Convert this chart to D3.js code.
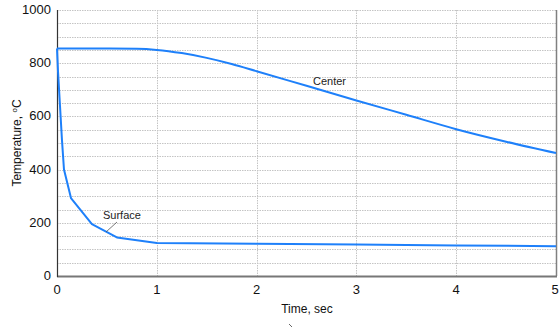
<!DOCTYPE html>
<html>
<head>
<meta charset="utf-8">
<script src="https://cdn.jsdelivr.net/npm/d3@7"></script>
<style>
body { margin: 0; background: #fff; }
text { font-family: "Liberation Sans", Arial, sans-serif; }
</style>
</head>
<body>
<script>
// data (time in sec, temperature in C)
var centerT = [0, 0.4, 0.8, 1.0, 1.25, 1.5, 1.75, 2.0, 2.5, 3.0, 3.5, 4.0, 4.5, 5.0];
var centerV = [855, 855, 854, 850, 838, 820, 797, 770, 715, 660, 606, 552, 505, 462];
var surfaceT = [0, 0.01, 0.03, 0.05, 0.07, 0.14, 0.35, 0.6, 1.0, 2.0, 3.0, 4.0, 5.0];
var surfaceV = [855, 770, 640, 510, 400, 293, 195, 145, 124, 121, 118, 115, 112];
var xTicks = [0, 1, 2, 3, 4, 5];
var yTicks = [0, 200, 400, 600, 800, 1000];

var W = 559, H = 327;
var pLeft = 57, pRight = 556, pTop = 10, pBottom = 276;

var svg = d3.select("body").append("svg")
    .attr("width", W)
    .attr("height", H);

var x = d3.scaleLinear().domain([0, 5]).range([pLeft, pRight]);
var y = d3.scaleLinear().domain([0, 1000]).range([pBottom, pTop]);

// grid, horizontal every 50, vertical every second
var grid = svg.append("g");
d3.range(50, 1001, 50).forEach(function(v){
    grid.append("line")
        .attr("x1", pLeft).attr("x2", pRight)
        .attr("y1", Math.round(y(v)) + 0.5).attr("y2", Math.round(y(v)) + 0.5)
        .attr("stroke", "#c4c4c4")
        .attr("stroke-dasharray", "1.5,1");
});
xTicks.slice(1, 5).forEach(function(t){
    grid.append("line")
        .attr("x1", Math.round(x(t)) + 0.5).attr("x2", Math.round(x(t)) + 0.5)
        .attr("y1", pTop).attr("y2", pBottom)
        .attr("stroke", "#c4c4c4")
        .attr("stroke-dasharray", "1.5,1");
});

// frame
svg.append("line")
    .attr("x1", pRight + 0.5).attr("x2", pRight + 0.5)
    .attr("y1", pTop).attr("y2", pBottom)
    .attr("stroke", "#808080").attr("stroke-width", 1.5);
svg.append("line")
    .attr("x1", pLeft).attr("x2", pRight + 1)
    .attr("y1", pBottom + 0.5).attr("y2", pBottom + 0.5)
    .attr("stroke", "#777").attr("stroke-width", 2);
svg.append("line")
    .attr("x1", pLeft + 0.5).attr("x2", pLeft + 0.5)
    .attr("y1", pTop).attr("y2", pBottom + 1)
    .attr("stroke", "#333").attr("stroke-width", 1.2);

// tick labels
svg.append("g").selectAll("text").data(yTicks).enter().append("text")
    .attr("x", 51)
    .attr("y", function(d){ return y(d) + 4; })
    .attr("text-anchor", "end")
    .style("font-size", "13px")
    .attr("fill", "#111")
    .text(function(d){ return d; });

svg.append("g").selectAll("text").data(xTicks).enter().append("text")
    .attr("x", function(d){ return x(d) + (d == 5 ? -1 : 0); })
    .attr("y", 294)
    .attr("text-anchor", "middle")
    .style("font-size", "13px")
    .attr("fill", "#111")
    .text(function(d){ return d; });

// axis titles
svg.append("text")
    .attr("x", 307).attr("y", 313)
    .attr("text-anchor", "middle")
    .style("font-size", "12px")
    .attr("fill", "#111")
    .text("Time, sec");

var yt = svg.append("text")
    .attr("transform", "translate(21,143) rotate(-90)")
    .attr("text-anchor", "middle")
    .style("font-size", "12px")
    .attr("fill", "#111");
yt.append("tspan").text("Temperature, ");
yt.append("tspan").attr("dy", -4).style("font-size", "8px").text("o");
yt.append("tspan").attr("dy", 4).text("C");

// curves
var line = d3.line()
    .x(function(d){ return x(d[0]); })
    .y(function(d){ return y(d[1]); })
    .curve(d3.curveMonotoneX);

svg.append("path")
    .datum(centerT.map(function(t, i){ return [t, centerV[i]]; }))
    .attr("d", line)
    .attr("fill", "none")
    .attr("stroke", "#1e80fa")
    .attr("stroke-width", 2);

svg.append("path")
    .datum(surfaceT.map(function(t, i){ return [t, surfaceV[i]]; }))
    .attr("d", d3.line().x(function(d){ return x(d[0]); }).y(function(d){ return y(d[1]); }))
    .attr("fill", "none")
    .attr("stroke", "#1e80fa")
    .attr("stroke-width", 2)
    .attr("stroke-linejoin", "round");

// labels
svg.append("text")
    .attr("x", 313).attr("y", 85)
    .style("font-size", "11px")
    .attr("fill", "#222")
    .text("Center");

svg.append("text")
    .attr("x", 103).attr("y", 219)
    .style("font-size", "11px")
    .attr("fill", "#222")
    .text("Surface");
svg.append("line")
    .attr("x1", 117).attr("y1", 222)
    .attr("x2", 106).attr("y2", 232)
    .attr("stroke", "#555").attr("stroke-width", 0.8);

// stray caption mark at the bottom
svg.append("line")
    .attr("x1", 289).attr("y1", 324)
    .attr("x2", 292).attr("y2", 327)
    .attr("stroke", "#666").attr("stroke-width", 1);
</script>
</body>
</html>
